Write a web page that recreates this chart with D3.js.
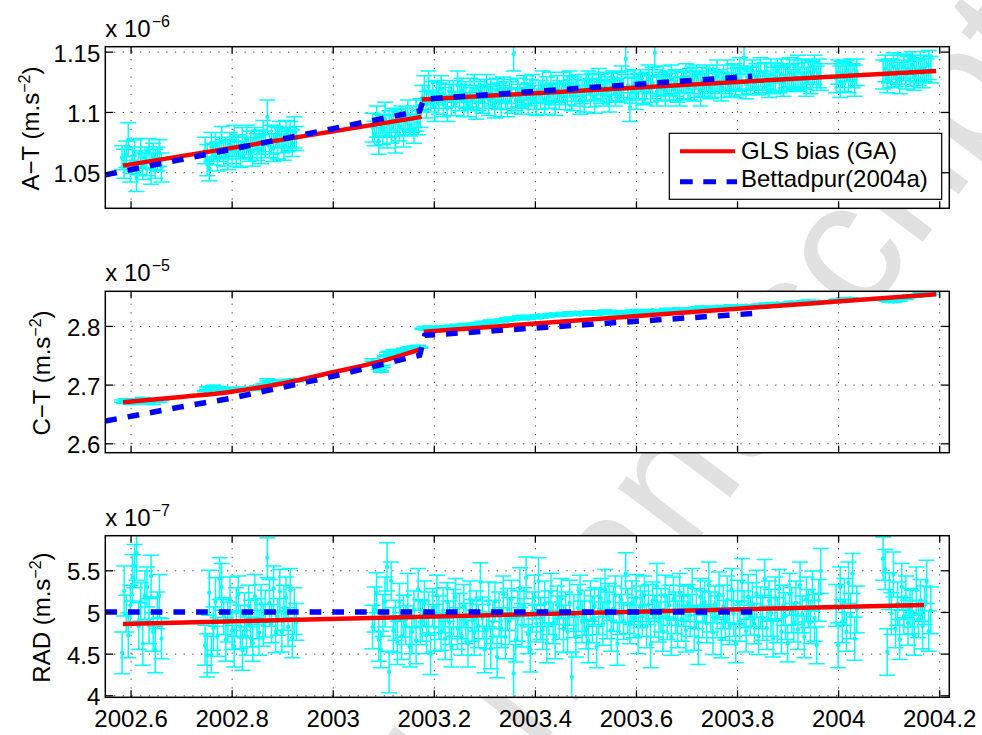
<!DOCTYPE html>
<html><head><meta charset="utf-8">
<script src="https://cdn.jsdelivr.net/npm/d3@7"></script>
<style>
body{margin:0;background:#fff}
svg text{font-family:"Liberation Sans",Arial,Helvetica,sans-serif}
</style>
</head><body>
<svg id="c" width="982" height="735"></svg>
<script>
// ---------------- DATA ----------------
// sample epochs, days after 2002.0
const epochDays = [
 213,214.5,216,217.5,219,220.5,222,223.5,225,226.5,228,229.5,231,232.5,234,235.5,237,238.5,240,241.5,
 273,274.5,276,277.5,279,280.5,282,283.5,285,286.5,288,289.5,291,292.5,294,295.5,297,298.5,300,301.5,
 303,304.5,306,307.5,309,310.5,312,313.5,315,316.5,318,319.5,321,322.5,324,325.5,327,328.5,330,331.5,
 333,334.5,336,337.5,339,
 394,395.5,397,398.5,400,401.5,403,404.5,406,407.5,409,410.5,412,413.5,415,416.5,418,419.5,421,422.5,424,425.5,427,428.5,
 430,431.5,433,434.5,436,437.5,439,440.5,442,443.5,
 445,446.5,448,449.5,451,452.5,454,455.5,457,458.5,
 460,461.5,463,464.5,466,467.5,469,470.5,472,473.5,
 475,476.5,478,479.5,481,482.5,484,485.5,487,488.5,
 490,491.5,493,494.5,496,497.5,499,500.5,502,503.5,
 505,506.5,508,509.5,511,512.5,514,515.5,517,518.5,
 520,521.5,523,524.5,526,527.5,529,530.5,532,533.5,
 535,536.5,538,539.5,541,542.5,544,545.5,547,548.5,
 550,551.5,553,554.5,556,557.5,559,560.5,562,563.5,
 565,566.5,568,569.5,571,572.5,574,575.5,577,578.5,
 580,581.5,583,584.5,586,587.5,589,590.5,592,593.5,
 595,596.5,598,599.5,601,602.5,604,605.5,607,608.5,
 610,611.5,613,614.5,616,617.5,619,620.5,622,623.5,
 625,626.5,628,629.5,631,632.5,634,635.5,637,638.5,
 640,641.5,643,644.5,646,647.5,649,650.5,652,653.5,
 655,656.5,658,659.5,661,662.5,664,665.5,667,668.5,
 670,671.5,673,674.5,676,677.5,679,680.5,682,683.5,
 685,686.5,688,689.5,691,692.5,694,695.5,697,698.5,
 700,701.5,703,704.5,706,707.5,709,710.5,712,713.5,
 715,716.5,718,
 729,730.5,732,733.5,735,736.5,738,739.5,741,742.5,744,
 763,764.5,766,767.5,769,770.5,772,773.5,775,776.5,778,779.5,781,782.5,784,785.5,787,788.5,790,791.5,793,794.5,796,797.5
];

// A-T bias, units 1e-9 m/s^2
const atVal = [
 1062,1057,1065,1077,1051,1060,1064,1046,1058,1066,1055,1062,1059,1068,1053,1063,1057,1061,1066,1054,
 1068,1060,1053,1071,1065,1072,1063,1069,1075,1066,1070,1064,1073,1068,1076,1067,1071,1065,1074,1070,
 1077,1069,1073,1067,1078,1071,1075,1069,1080,1073,1096,1072,1077,1070,1079,1074,1081,1076,1072,1082,
 1077,1080,1074,1083,1078,
 1087,1082,1092,1076,1089,1085,1094,1080,1090,1086,1093,1079,1091,1088,1095,1084,1092,1098,1089,1094,1086,1097,1091,1099,
 1112,1118,1106,1121,1109,1114,1104,1116,1111,1119,
 1108,1113,1103,1117,1110,1115,1107,1122,1112,1118,
 1109,1114,1106,1116,1111,1120,1108,1113,1117,1110,
 1115,1121,1110,1116,1112,1107,1118,1113,1109,1119,
 1114,1108,1117,1112,1148,1110,1116,1113,1109,1118,
 1120,1111,1116,1119,1112,1108,1117,1114,1121,1110,
 1118,1113,1121,1115,1110,1119,1114,1116,1121,1113,
 1118,1123,1114,1119,1116,1122,1110,1117,1113,1120,
 1124,1116,1121,1112,1118,1125,1119,1115,1122,1117,
 1113,1120,1124,1116,1121,1118,1125,1119,1144,1122,
 1104,1118,1123,1115,1121,1126,1119,1116,1122,1127,
 1119,1124,1149,1117,1123,1120,1126,1118,1124,1121,
 1127,1119,1124,1121,1117,1125,1122,1128,1120,1123,
 1126,1121,1129,1123,1118,1125,1122,1128,1124,1120,
 1127,1123,1130,1125,1121,1128,1124,1131,1122,1126,
 1129,1124,1127,1132,1125,1145,1123,1128,1126,1131,
 1124,1129,1127,1133,1125,1130,1128,1122,1131,1126,
 1129,1134,1127,1131,1125,1130,1128,1133,1126,1131,
 1129,1134,1127,1132,1130,1125,1133,1128,1131,1135,
 1128,1132,1129,
 1128,1133,1125,1131,1129,1134,1127,1132,1130,1126,1133,
 1131,1136,1129,1134,1132,1138,1130,1135,1128,1133,1137,1131,1136,1134,1139,1130,1135,1133,1137,1132,1136,1134,1139,1135
];
const atErr = [
 10,12,11,14,9,11,13,12,10,12,11,9,12,10,13,11,12,10,11,12,
 11,13,10,12,9,11,12,10,13,11,9,12,10,11,13,12,10,11,13,9,
 12,10,11,12,9,11,10,12,13,11,14,10,12,11,9,13,11,10,12,11,
 10,12,11,13,10,
 12,10,13,11,9,12,14,10,11,12,10,13,11,12,10,13,11,12,9,11,12,13,10,12,
 10,12,11,13,9,11,12,10,13,11,
 12,10,11,9,13,11,10,12,11,10,
 13,11,10,12,9,11,14,12,10,11,
 12,10,13,11,9,12,10,11,13,10,
 11,12,10,13,14,9,12,10,11,12,
 10,13,11,12,10,11,9,12,13,12,
 11,10,12,9,13,11,12,10,12,11,
 12,11,13,10,11,9,12,10,13,11,
 10,12,11,13,9,11,12,10,11,12,
 13,12,10,11,12,10,13,9,13,12,
 12,11,12,13,11,9,12,10,11,12,
 11,13,14,12,10,11,12,13,10,11,
 12,10,11,13,12,9,11,12,10,13,
 11,12,10,11,13,12,10,11,12,9,
 12,11,13,10,12,11,9,12,10,13,
 11,12,10,13,11,14,12,10,11,12,
 10,11,13,12,9,11,12,10,13,11,
 12,10,11,13,12,10,11,12,9,12,
 11,13,10,12,11,12,10,13,11,12,
 10,12,11,
 12,10,13,11,12,9,11,12,10,13,11,
 12,11,13,10,12,11,9,12,13,10,11,12,10,13,11,12,10,11,13,12,11,10,12,11
];

// C-T bias, units 1e-8 m/s^2
const ctVal = [
 2672,2669,2674,2670,2673,2668,2671,2675,2669,2672,2676,2673,2670,2674,2671,2668,2673,2675,2672,2674,
 2689,2694,2696,2693,2697,2695,2692,2696,2694,2691,2693,2690,2692,2694,2691,2689,2693,2690,2692,2694,
 2691,2693,2695,2692,2694,2696,2693,2697,2699,2701,2708,2703,2700,2704,2702,2705,2703,2706,2704,2707,
 2705,2708,2706,2709,2707,
 2742,2739,2735,2728,2722,2731,2748,2753,2756,2754,2758,2755,2757,2759,2756,2760,2758,2761,2763,2760,2764,2762,2765,2763,
 2795,2797,2794,2796,2798,2795,2797,2799,2796,2798,
 2797,2799,2796,2798,2800,2797,2799,2801,2798,2800,
 2799,2802,2800,2803,2801,2804,2802,2805,2803,2806,
 2804,2807,2805,2808,2806,2809,2807,2810,2808,2811,
 2809,2812,2810,2813,2811,2814,2812,2815,2813,2816,
 2814,2812,2815,2817,2814,2816,2818,2815,2817,2819,
 2816,2818,2820,2817,2819,2821,2818,2820,2822,2819,
 2821,2819,2822,2820,2823,2821,2819,2822,2820,2823,
 2821,2824,2822,2820,2823,2821,2824,2822,2825,2823,
 2821,2824,2822,2825,2823,2821,2824,2822,2825,2823,
 2824,2822,2825,2823,2826,2824,2822,2825,2823,2826,
 2824,2827,2825,2823,2826,2824,2827,2825,2828,2826,
 2827,2825,2828,2826,2829,2827,2825,2828,2826,2829,
 2828,2830,2827,2831,2829,2832,2830,2828,2831,2829,
 2832,2830,2833,2831,2829,2832,2830,2833,2831,2834,
 2832,2830,2833,2831,2834,2832,2835,2833,2831,2834,
 2835,2833,2836,2834,2832,2835,2837,2834,2836,2838,
 2836,2839,2837,2835,2838,2836,2839,2837,2840,2838,
 2839,2837,2840,2838,2841,2839,2842,2840,2838,2841,
 2840,2842,2841,
 2843,2845,2842,2844,2846,2843,2845,2847,2844,2846,2845,
 2847,2845,2843,2842,2844,2841,2843,2845,2844,2846,2848,2847,2849,2851,2850,2852,2851,2853,2855,2854,2856,2854,2857,2855
];
const ctErr = [
 2,1,2,1,1,2,2,1,2,1,2,1,1,2,1,2,2,1,2,1,
 1,2,1,2,2,1,2,1,1,2,1,2,2,1,2,1,2,1,2,2,
 1,2,1,2,1,2,1,1,2,1,2,2,1,2,1,2,1,2,1,1,
 2,1,2,1,2,
 2,1,2,2,1,2,1,2,1,2,2,1,2,1,1,2,1,2,2,1,2,1,2,1,
 1,2,1,2,2,1,2,1,2,1,
 2,1,2,1,1,2,1,2,2,1,
 1,2,2,1,2,1,2,1,1,2,
 2,1,1,2,1,2,2,1,2,1,
 1,2,1,2,1,1,2,2,1,2,
 2,1,2,1,2,2,1,2,1,1,
 1,2,1,1,2,1,2,2,1,2,
 2,1,2,2,1,2,1,1,2,1,
 1,2,1,2,2,1,2,1,2,2,
 2,1,2,1,2,1,1,2,1,2,
 1,2,2,1,2,1,2,1,2,1,
 2,1,2,1,1,2,1,2,2,1,
 1,2,1,2,2,1,2,1,1,2,
 2,1,1,2,1,2,2,1,2,1,
 1,2,1,2,1,1,2,2,1,2,
 2,1,2,1,2,2,1,2,1,1,
 1,2,1,1,2,1,2,2,1,2,
 2,1,2,2,1,2,1,1,2,1,
 1,2,1,2,2,1,2,1,2,2,
 2,1,2,
 2,1,2,1,2,1,2,1,2,1,2,
 1,2,1,2,2,1,2,1,2,1,2,2,1,2,1,1,2,1,2,2,1,2,1,2
];

// RAD bias, units 1e-9 m/s^2
const radVal = [
 451,525,498,472,508,541,555,571,483,512,462,520,530,489,543,476,455,502,519,468,
 460,448,523,449,480,512,470,540,530,495,467,488,515,478,459,500,521,482,454,496,
 471,507,486,463,519,492,475,510,484,498,565,511,486,528,476,494,525,476,505,517,
 482,526,469,501,488,
 482,503,523,467,455,496,512,554,428,537,478,490,463,512,471,495,484,519,458,476,503,466,527,488,
 489,510,472,498,450,505,481,520,493,476,
 502,468,512,487,458,499,518,480,495,471,
 507,486,462,515,490,475,501,483,536,493,
 455,478,509,456,488,512,446,497,481,521,
 470,503,489,515,426,467,495,529,484,507,
 541,473,455,500,518,486,537,492,478,510,
 463,499,524,487,471,508,493,516,480,502,
 476,511,422,495,470,505,522,488,499,479,
 465,513,491,507,458,500,517,486,527,496,
 512,478,504,520,462,497,515,489,546,501,
 485,511,493,517,472,506,498,520,483,509,
 461,514,495,531,488,502,476,519,494,508,
 470,516,499,485,523,492,507,478,511,496,
 529,481,504,463,518,497,512,486,533,500,
 475,509,494,521,468,506,490,515,483,527,
 498,462,512,489,536,503,477,518,495,509,
 486,522,471,505,493,540,481,513,499,468,
 517,490,528,476,508,495,462,521,502,487,
 511,479,532,497,470,515,504,488,525,493,
 460,514,549,
 508,460,530,489,512,476,535,495,546,468,503,
 564,551,452,525,498,545,480,510,467,530,495,518,487,505,500,472,526,491,514,483,508,536,477,502
];
const radErr = [
 25,30,22,27,24,28,26,33,28,23,26,29,24,27,25,23,28,22,26,24,
 24,26,27,22,26,29,23,25,28,22,26,24,27,23,25,29,22,26,24,27,
 23,25,28,22,26,24,27,23,25,28,24,28,23,27,25,22,26,24,27,25,
 23,26,24,28,22,
 26,27,24,26,22,25,30,29,25,23,27,24,26,22,28,25,23,27,24,26,22,28,25,27,
 24,27,22,26,25,23,28,24,26,22,
 27,25,23,26,24,28,22,25,27,23,
 26,24,28,22,25,27,24,26,23,25,
 28,22,27,24,26,23,25,27,24,22,
 26,25,28,23,35,27,30,24,26,22,
 25,23,27,24,26,22,28,25,23,27,
 24,26,22,25,27,23,26,24,28,22,
 25,27,30,26,24,28,22,25,27,23,
 26,24,28,22,25,27,23,26,24,28,
 22,25,27,23,26,24,28,22,25,27,
 23,26,24,28,22,25,27,23,26,24,
 28,22,25,27,24,26,23,25,27,24,
 22,26,25,28,23,27,24,26,22,25,
 23,27,24,26,22,28,25,23,27,24,
 26,22,25,27,23,26,24,28,22,25,
 27,23,26,24,28,22,25,27,23,26,
 24,28,22,25,27,23,26,24,28,22,
 25,27,23,26,24,28,22,25,27,23,
 26,24,28,22,25,27,23,26,24,28,
 22,25,27,
 25,27,24,26,28,23,25,27,24,26,28,
 26,24,28,22,25,27,23,26,24,28,22,25,27,23,26,24,28,22,25,27,23,26,24,28
];

// fitted / model curves [year, value in plotted units]
const glsAT1 = [[2002.585,1.0555],[2003.176,1.0959]];
const glsAT2 = [[2003.176,1.1103],[2004.194,1.1340]];
const betAT  = [[2002.55,1.0478],[2003.172,1.1008],[2003.180,1.1106],[2003.83,1.1296]];
const glsCT1 = [[2002.585,2.670],[2002.7,2.679],[2002.8,2.688],[2002.9,2.702],[2003.0,2.721],[2003.1,2.741],[2003.176,2.761]];
const glsCT2 = [[2003.18,2.790],[2004.194,2.854]];
const betCT  = [[2002.55,2.638],[2002.7,2.662],[2002.8,2.677],[2003.0,2.714],[2003.172,2.750],[2003.182,2.784],[2003.83,2.821]];
const glsRAD = [[2002.585,4.856],[2004.17,5.084]];
const betRAD = [[2002.55,5.0],[2003.83,5.0]];

const xTicks   = [2002.6,2002.8,2003,2003.2,2003.4,2003.6,2003.8,2004,2004.2];
const atTicks  = [1.05,1.1,1.15];
const ctTicks  = [2.6,2.7,2.8];
const radTicks = [4,4.5,5,5.5];
const legendLabels = ["GLS bias (GA)","Bettadpur(2004a)"];

// ---------------- DRAWING ----------------
const svg = d3.select("#c");
const FONT = 24;
const X0 = 105.3, X1 = 949.3;
const x = d3.scaleLinear().domain([2002.55, 2004.22]).range([X0, X1]);
const times = epochDays.map(dd => 2002 + dd / 365.25);
const fmt = d => String(+d.toFixed(2));

svg.append("rect").attr("width",982).attr("height",735).attr("fill","#fff");

// watermark (behind the axes)
const wm = svg.append("g").attr("transform","translate(536,755) rotate(-53)")
  .attr("fill","#e1e1e1").attr("font-size",180);
wm.append("text").attr("x",0).text("manuscript");
wm.append("text").attr("x",-50).attr("text-anchor","end").text("Accepted");

const panels = [
 {id:"at", vals:atVal, errs:atErr, unit:1000, dom:[1.0201,1.1541], top:46.7, bottom:208.3, ticks:atTicks,
  label:"A−T (m.s", exp:"−6", labelX:38.5, gls:[glsAT1,glsAT2], curve:[false,false], bet:betAT, xLabels:false, legend:true},
 {id:"ct", vals:ctVal, errs:ctErr, unit:1000, dom:[2.584,2.859], top:291.3, bottom:452.7, ticks:ctTicks,
  label:"C−T (m.s", exp:"−5", labelX:50, gls:[glsCT1,glsCT2], curve:[true,false], bet:betCT, xLabels:false},
 {id:"rad", vals:radVal, errs:radErr, unit:100, dom:[3.976,5.915], top:535.7, bottom:697.3, ticks:radTicks,
  label:"RAD (m.s", exp:"−7", labelX:50, gls:[glsRAD], curve:[false], bet:betRAD, xLabels:true}
];

panels.forEach(p => {
  const y = d3.scaleLinear().domain(p.dom).range([p.bottom, p.top]);
  const h = p.bottom - p.top, w = X1 - X0;
  const g = svg.append("g");
  const n = Math.min(times.length, p.vals.length, p.errs.length);

  g.append("rect").attr("x",X0).attr("y",p.top).attr("width",w).attr("height",h).attr("fill","#fff");

  // grid
  const gridStyle = s => s.attr("stroke","#000").attr("stroke-width",1)
      .attr("stroke-dasharray","1.3,7.4").attr("opacity",0.75);
  const gx = g.append("g").attr("transform",`translate(0,${p.bottom})`)
    .call(d3.axisBottom(x).tickValues(xTicks).tickSize(-h).tickFormat(""));
  gx.select(".domain").remove();
  gx.selectAll("line").call(gridStyle);
  const gy = g.append("g").attr("transform",`translate(${X0},0)`)
    .call(d3.axisLeft(y).tickValues(p.ticks).tickSize(-w).tickFormat(""));
  gy.select(".domain").remove();
  gy.selectAll("line").call(gridStyle);

  // clip
  svg.append("clipPath").attr("id","clip-"+p.id).append("rect")
    .attr("x",X0).attr("y",p.top).attr("width",w).attr("height",h);
  const d = g.append("g").attr("clip-path",`url(#clip-${p.id})`);

  // error bars
  const cap = 8;
  let path = "";
  for (let i = 0; i < n; i++) {
    const v = p.vals[i], xi = x(times[i]);
    const lo = y((v - p.errs[i]) / p.unit), hi = y((v + p.errs[i]) / p.unit);
    path += `M${xi},${lo}V${hi}M${xi-cap},${lo}H${xi+cap}M${xi-cap},${hi}H${xi+cap}`;
  }
  d.append("path").attr("d",path).attr("fill","none").attr("stroke","#00ffff").attr("stroke-width",1.5);
  d.selectAll("circle.pt").data(p.vals.slice(0,n)).join("circle").attr("class","pt")
    .attr("cx",(v,i)=>x(times[i])).attr("cy",v=>y(v/p.unit)).attr("r",2.1).attr("fill","#00ffff");

  // GLS fit (red) and Bettadpur model (blue dashed)
  p.gls.forEach((seg,k) => {
    const ln = d3.line().x(q=>x(q[0])).y(q=>y(q[1]));
    if (p.curve[k]) ln.curve(d3.curveMonotoneX);
    d.append("path").attr("d",ln(seg)).attr("fill","none").attr("stroke","#ff0000").attr("stroke-width",4.5);
  });
  d.append("path").attr("d",d3.line().x(q=>x(q[0])).y(q=>y(q[1]))(p.bet))
    .attr("fill","none").attr("stroke","#0000ff").attr("stroke-width",5.5)
    .attr("stroke-dasharray","11.7,11");

  // box
  g.append("rect").attr("x",X0).attr("y",p.top).attr("width",w).attr("height",h)
    .attr("fill","none").attr("stroke","#000").attr("stroke-width",1.5);

  // inward ticks on all four sides
  const tk = s => { s.select(".domain").remove(); s.selectAll("line").attr("stroke","#000").attr("stroke-width",1.3); };
  g.append("g").attr("transform",`translate(0,${p.top})`)
    .call(d3.axisTop(x).tickValues(xTicks).tickSize(-7).tickFormat("")).call(tk);
  const bx = g.append("g").attr("transform",`translate(0,${p.bottom})`)
    .call(d3.axisBottom(x).tickValues(xTicks).tickSize(-7).tickFormat(p.xLabels ? (v=>String(+v.toFixed(1))) : "")).call(tk);
  bx.attr("font-family",null);
  bx.selectAll("text").attr("y",29.5).attr("dy",0).attr("font-size",FONT).attr("fill","#000");
  g.append("g").attr("transform",`translate(${X1},0)`)
    .call(d3.axisRight(y).tickValues(p.ticks).tickSize(-8).tickFormat("")).call(tk);
  const ly = g.append("g").attr("transform",`translate(${X0},0)`)
    .call(d3.axisLeft(y).tickValues(p.ticks).tickSize(-8).tickPadding(5).tickFormat(fmt)).call(tk);
  ly.attr("font-family",null);
  ly.selectAll("text").attr("dy",0).attr("y",9.5).attr("font-size",FONT).attr("fill","#000");

  // exponent label
  const ex = g.append("text").attr("x",X0).attr("y",p.top-10).attr("font-size",FONT).attr("fill","#000");
  ex.append("tspan").text("x 10");
  ex.append("tspan").attr("font-size",16).attr("dy",-10).attr("dx",1).text(p.exp);

  // y label
  const yl = g.append("text").attr("transform",`translate(${p.labelX},${(p.top+p.bottom)/2+1}) rotate(-90)`)
    .attr("text-anchor","middle").attr("font-size",FONT).attr("fill","#000");
  yl.append("tspan").text(p.label);
  yl.append("tspan").attr("font-size",16).attr("dy",-9).text("−2");
  yl.append("tspan").attr("dy",9).text(")");

  // legend
  if (p.legend) {
    const lg = g.append("g");
    lg.append("rect").attr("x",669.3).attr("y",133.3).attr("width",272.4).attr("height",66)
      .attr("fill","#fff").attr("stroke","#000").attr("stroke-width",1.2);
    lg.append("line").attr("x1",680).attr("x2",735).attr("y1",151.3).attr("y2",151.3)
      .attr("stroke","#ff0000").attr("stroke-width",4);
    lg.append("line").attr("x1",680).attr("x2",737).attr("y1",181.7).attr("y2",181.7)
      .attr("stroke","#0000ff").attr("stroke-width",5).attr("stroke-dasharray","12.7,10.6");
    lg.append("text").attr("x",741).attr("y",159).attr("font-size",FONT).attr("fill","#000").text(legendLabels[0]);
    lg.append("text").attr("x",741).attr("y",187).attr("font-size",FONT).attr("fill","#000").text(legendLabels[1]);
  }
});
</script>
</body></html>
